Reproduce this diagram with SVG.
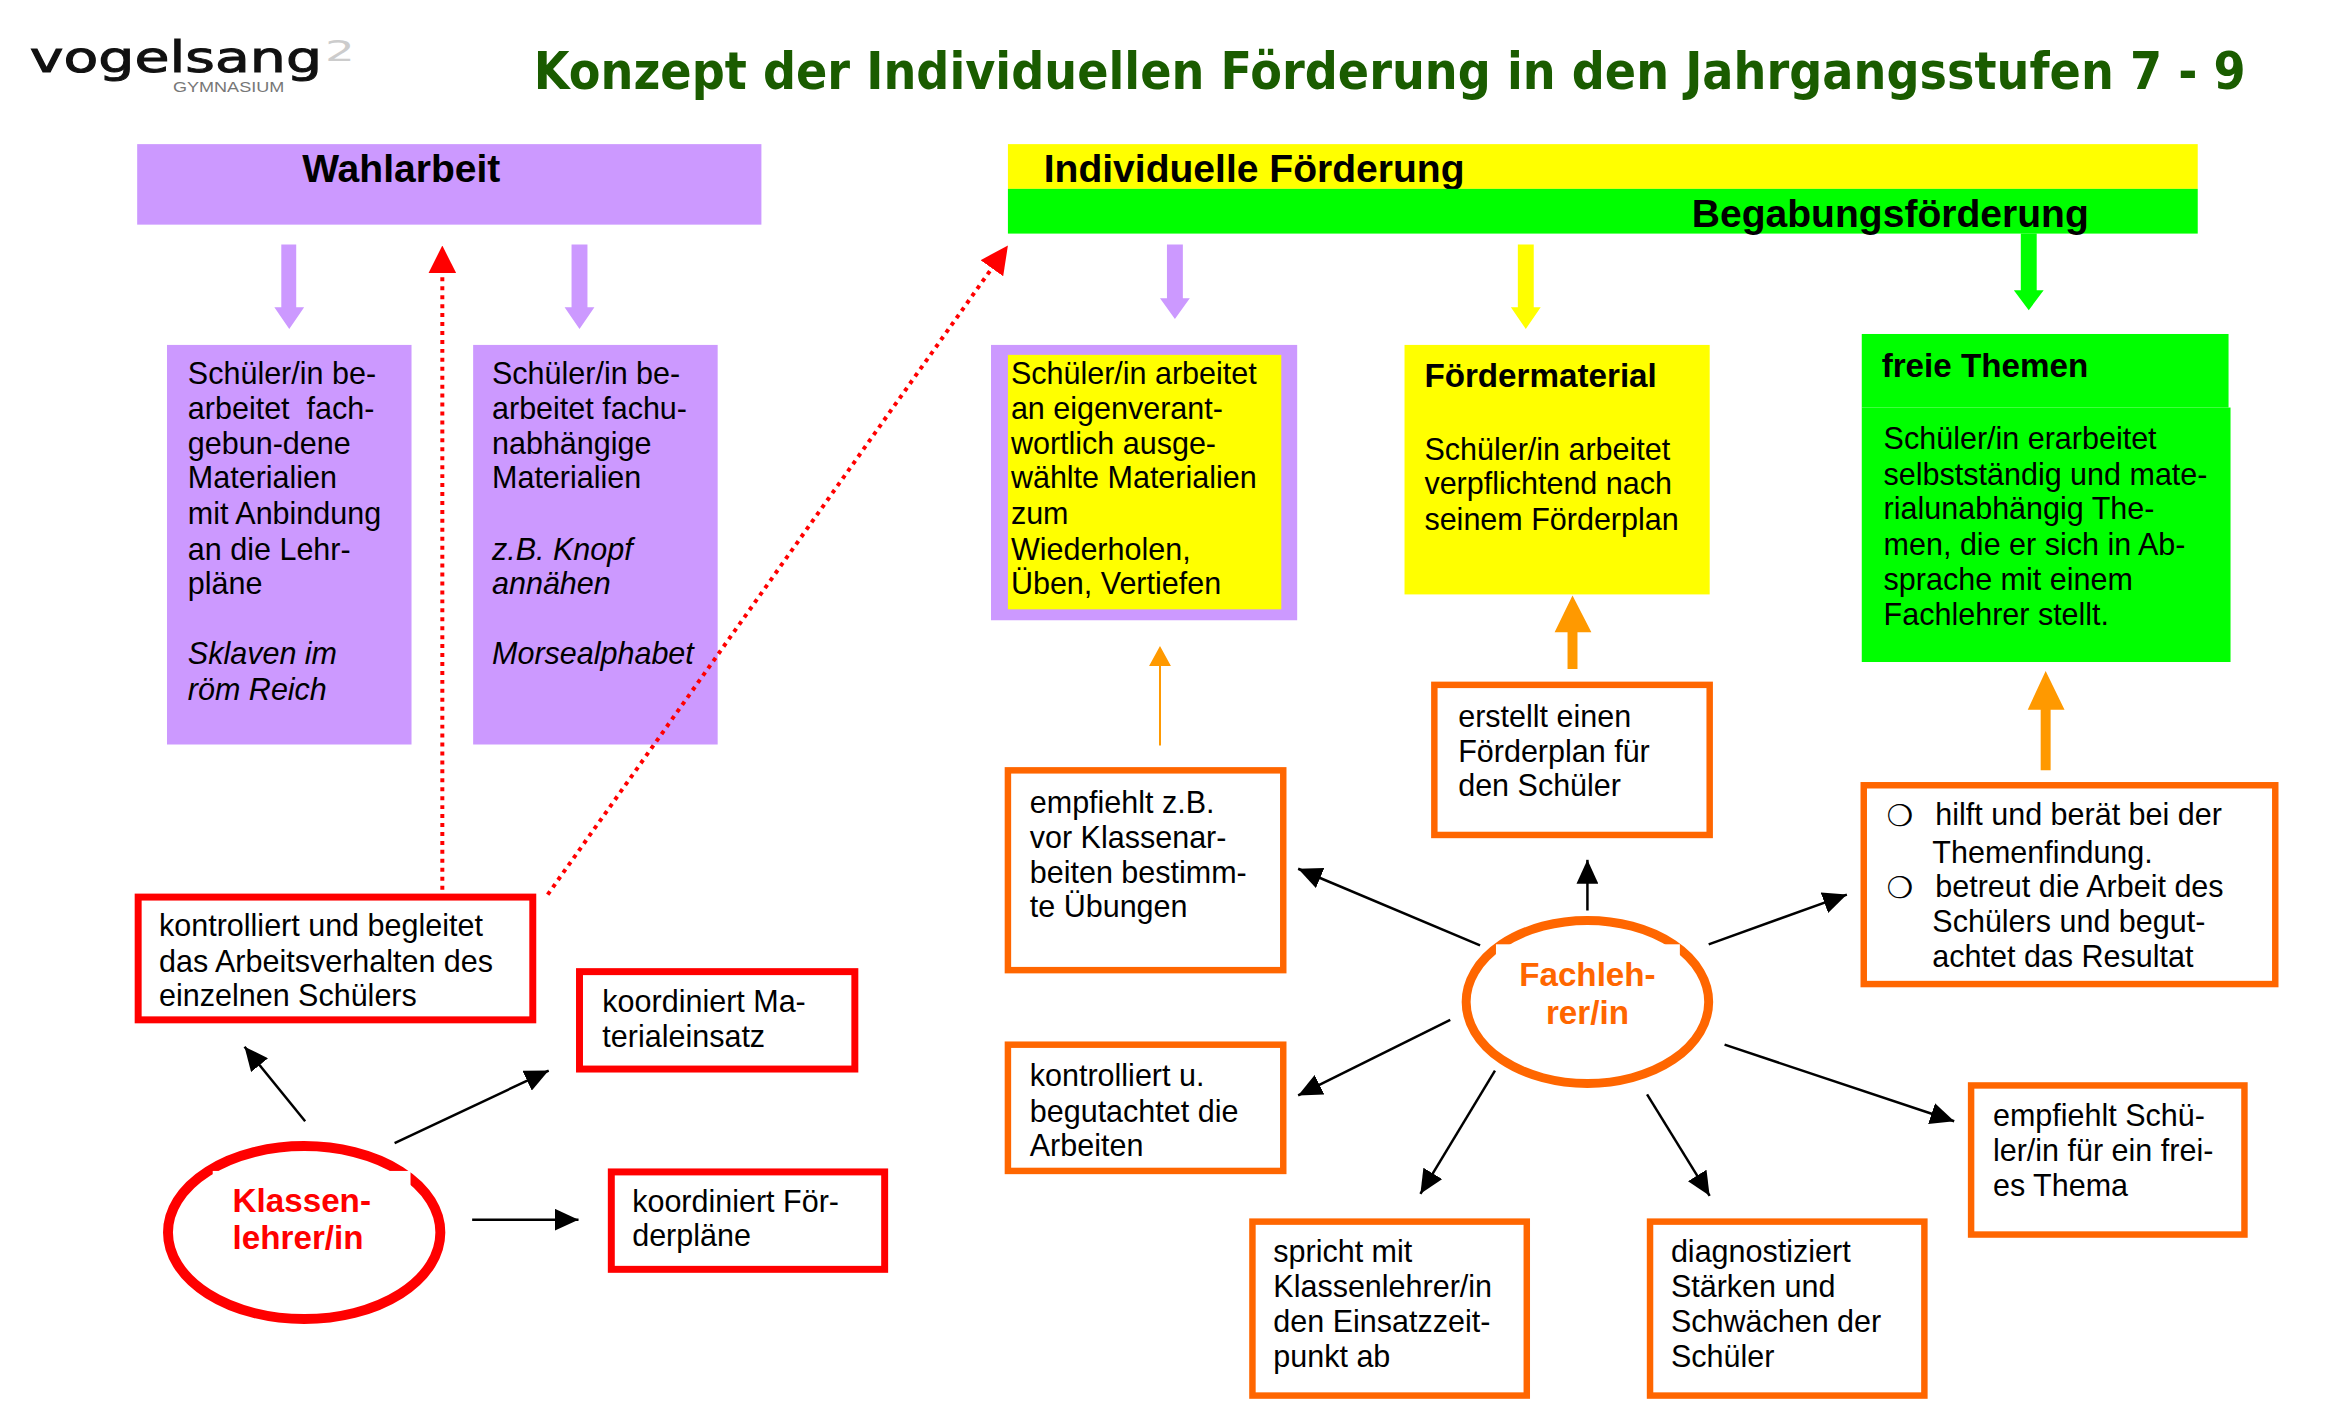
<svg xmlns="http://www.w3.org/2000/svg" width="2338" height="1422" viewBox="0 0 2338 1422">
<style>
text{font-family:"Liberation Sans",Arial,sans-serif;font-size:30.7px;fill:#000}
.h{font-weight:bold;font-size:39.3px}
.s{font-weight:bold;font-size:33.4px}
.i{font-style:italic}
.pu{fill:#cc99ff}.ye{fill:#ffff00}.gr{fill:#00ff00}
.rb{fill:#fff;stroke:#ff0000;stroke-width:7}
.ob{fill:#fff;stroke:#ff6600;stroke-width:6.500}
.bl{stroke:#000;stroke-width:2.5;fill:none;marker-end:url(#blk)}
.dot{stroke:#ff0000;stroke-width:4;stroke-dasharray:4 5;fill:none;marker-end:url(#redh)}
</style>
<defs>
<marker id="blk" markerUnits="userSpaceOnUse" markerWidth="24" markerHeight="22" viewBox="0 0 24 22" refX="24" refY="11" orient="auto"><path d="M0,0L24,11L0,22Z" fill="#000"/></marker>
<marker id="redh" markerUnits="userSpaceOnUse" markerWidth="28" markerHeight="28" viewBox="0 0 28 28" refX="28" refY="14" orient="auto"><path d="M0,0L28,14L0,28Z" fill="#ff0000"/></marker>
</defs>
<rect width="2338" height="1422" fill="#fff"/>
<g transform="scale(0.994)">
<g id="logo">
<text x="30" y="72" style="font-family:'DejaVu Sans',sans-serif;font-size:42px;fill:#111;stroke:#111;stroke-width:1" textLength="294" lengthAdjust="spacingAndGlyphs">vogelsang</text>
<text x="327" y="61" style="font-family:'DejaVu Sans',sans-serif;font-size:28px;fill:#ccc" textLength="30" lengthAdjust="spacingAndGlyphs">2</text>
<text x="174" y="93" style="font-size:14px;fill:#777" textLength="112" lengthAdjust="spacingAndGlyphs">GYMNASIUM</text>
</g>
<g id="title"><text transform="translate(537,90) scale(1,1.12)" style="font-family:'DejaVu Sans',sans-serif;font-weight:bold;font-size:46.500px;fill:#1a5c00">Konzept der Individuellen Förderung in den Jahrgangsstufen 7 - 9</text></g>
<g id="wahlarbeit"><rect class="pu" x="138" y="145" width="628" height="81"/><text class="h" x="304" y="183">Wahlarbeit</text></g>
<g id="individuelle-foerderung"><rect class="ye" x="1014" y="145" width="1197" height="45"/><text class="h" x="1050" y="183">Individuelle Förderung</text></g>
<g id="begabungsfoerderung"><rect class="gr" x="1014" y="190" width="1197" height="45"/><text class="h" x="1702" y="228">Begabungsförderung</text></g>
<g id="wahl-fach"><rect class="pu" x="168" y="347" width="246" height="402"/>
<text x="189" y="386">Schüler/in be-</text><text x="189" y="422">arbeitet&#160; fach-</text><text x="189" y="457">gebun-dene</text><text x="189" y="491">Materialien</text><text x="189" y="527">mit Anbindung</text><text x="189" y="563">an die Lehr-</text><text x="189" y="598">pläne</text><text class="i" x="189" y="668">Sklaven im</text><text class="i" x="189" y="704">röm Reich</text></g>
<g id="wahl-unab"><rect class="pu" x="476" y="347" width="246" height="402"/>
<text x="495" y="386">Schüler/in be-</text><text x="495" y="422">arbeitet fachu-</text><text x="495" y="457">nabhängige</text><text x="495" y="491">Materialien</text><text class="i" x="495" y="563">z.B. Knopf</text><text class="i" x="495" y="598">annähen</text><text class="i" x="495" y="668">Morsealphabet</text></g>
<g id="eigen"><rect class="pu" x="997" y="347" width="308" height="277"/><rect class="ye" x="1014" y="357" width="275" height="256"/>
<text x="1017" y="386">Schüler/in arbeitet</text><text x="1017" y="422">an eigenverant-</text><text x="1017" y="457">wortlich ausge-</text><text x="1017" y="491">wählte Materialien</text><text x="1017" y="527">zum</text><text x="1017" y="563">Wiederholen,</text><text x="1017" y="598">Üben, Vertiefen</text></g>
<g id="foerdermaterial"><rect class="ye" x="1413" y="347" width="307" height="251"/>
<text class="s" x="1433" y="389">Fördermaterial</text><text x="1433" y="463">Schüler/in arbeitet</text><text x="1433" y="497">verpflichtend nach</text><text x="1433" y="533">seinem Förderplan</text></g>
<g id="freie-themen"><rect class="gr" x="1873" y="336" width="369" height="74"/><rect class="gr" x="1873" y="410" width="371" height="256"/>
<text class="s" x="1893" y="379">freie Themen</text><text x="1895" y="452">Schüler/in erarbeitet</text><text x="1895" y="488">selbstständig und mate-</text><text x="1895" y="522">rialunabhängig The-</text><text x="1895" y="558">men, die er sich in Ab-</text><text x="1895" y="594">sprache mit einem</text><text x="1895" y="629">Fachlehrer stellt.</text></g>
<g id="k-arbeitsverhalten"><rect class="rb" x="139" y="902.500" width="397" height="123.500"/><text x="160" y="942">kontrolliert und begleitet</text><text x="160" y="978">das Arbeitsverhalten des</text><text x="160" y="1012">einzelnen Schülers</text></g>
<g id="k-material"><rect class="rb" x="583" y="977.500" width="277" height="98"/><text x="606" y="1018">koordiniert Ma-</text><text x="606" y="1053">terialeinsatz</text></g>
<g id="k-plaene"><rect class="rb" x="615" y="1179" width="275" height="98"/><text x="636" y="1219">koordiniert För-</text><text x="636" y="1254">derpläne</text></g>
<g id="klassenlehrer"><ellipse cx="306" cy="1240" rx="137" ry="87" fill="#fff" stroke="#ff0000" stroke-width="10"/><rect x="214" y="1178" width="199" height="30" fill="#fff"/>
<text class="s" x="234" y="1219" style="fill:#ff0000">Klassen-</text><text class="s" x="234" y="1257" style="fill:#ff0000">lehrer/in</text></g>
<g id="f-empfiehlt"><rect class="ob" x="1014" y="775" width="277" height="201"/><text x="1036" y="818">empfiehlt z.B.</text><text x="1036" y="853">vor Klassenar-</text><text x="1036" y="888">beiten bestimm-</text><text x="1036" y="923">te Übungen</text></g>
<g id="f-erstellt"><rect class="ob" x="1443" y="689" width="277" height="151"/><text x="1467" y="731">erstellt einen</text><text x="1467" y="767">Förderplan für</text><text x="1467" y="801">den Schüler</text></g>
<g id="f-hilft"><rect class="ob" x="1875" y="790" width="414" height="200"/>
<text x="1898" y="831" style="font-family:'DejaVu Sans',sans-serif;font-size:30px;font-weight:bold">❍</text><text x="1947" y="830">hilft und berät bei der</text><text x="1944" y="868">Themenfindung.</text>
<text x="1898" y="903" style="font-family:'DejaVu Sans',sans-serif;font-size:30px;font-weight:bold">❍</text><text x="1947" y="902">betreut die Arbeit des</text><text x="1944" y="938">Schülers und begut-</text><text x="1944" y="973">achtet das Resultat</text></g>
<g id="f-kontrolliert"><rect class="ob" x="1014" y="1051" width="277" height="127"/><text x="1036" y="1093">kontrolliert u.</text><text x="1036" y="1129">begutachtet die</text><text x="1036" y="1163">Arbeiten</text></g>
<g id="f-spricht"><rect class="ob" x="1260" y="1229" width="276" height="175"/><text x="1281" y="1270">spricht mit</text><text x="1281" y="1305">Klassenlehrer/in</text><text x="1281" y="1340">den Einsatzzeit-</text><text x="1281" y="1375">punkt ab</text></g>
<g id="f-diagnose"><rect class="ob" x="1660" y="1229" width="276" height="175"/><text x="1681" y="1270">diagnostiziert</text><text x="1681" y="1305">Stärken und</text><text x="1681" y="1340">Schwächen der</text><text x="1681" y="1375">Schüler</text></g>
<g id="f-thema"><rect class="ob" x="1983" y="1092" width="275" height="150"/><text x="2005" y="1133">empfiehlt Schü-</text><text x="2005" y="1168">ler/in für ein frei-</text><text x="2005" y="1203">es Thema</text></g>
<g id="fachlehrer"><ellipse cx="1597" cy="1008" rx="122" ry="82" fill="#fff" stroke="#ff6600" stroke-width="9"/><rect x="1505" y="950" width="185" height="30" fill="#fff"/>
<text class="s" x="1597" y="992" text-anchor="middle" style="fill:#ff6600">Fachleh-</text><text class="s" x="1597" y="1030" text-anchor="middle" style="fill:#ff6600">rer/in</text></g>
<g id="connectors">
<path class="pu" d="M283,246H298V309H306L291,331L276,309H283Z"/>
<path class="pu" d="M575,246H591V309H598L583,331L568,309H575Z"/>
<path class="pu" d="M1174,246H1190V300H1197L1182,321L1167,300H1174Z"/>
<path class="ye" d="M1527,246H1543V309H1550L1535,331L1520,309H1527Z"/>
<path class="gr" d="M2033,235H2049V292H2056L2041,312L2026,292H2033Z"/>
<path d="M1577,673V636H1564L1582,599L1601,636H1587V673Z" fill="#ff9900"/>
<path d="M2053,775V714H2040L2058,675L2077,714H2063V775Z" fill="#ff9900"/>
<path d="M1166,750V670H1156L1167,650L1178,670H1168V750Z" fill="#ff9900"/>
<path class="dot" d="M445,895V247"/>
<path class="dot" d="M551,900L1014,247"/>
<path class="bl" d="M307,1128L246,1053"/>
<path class="bl" d="M397,1150L552,1077"/>
<path class="bl" d="M475,1227H582"/>
<path class="bl" d="M1489,951L1306,874"/>
<path class="bl" d="M1597,916V865"/>
<path class="bl" d="M1719,950L1858,900"/>
<path class="bl" d="M1459,1026L1306,1102"/>
<path class="bl" d="M1504,1077L1429,1201"/>
<path class="bl" d="M1657,1101L1720,1203"/>
<path class="bl" d="M1735,1051L1966,1128"/>
</g>
</g>
</svg>
